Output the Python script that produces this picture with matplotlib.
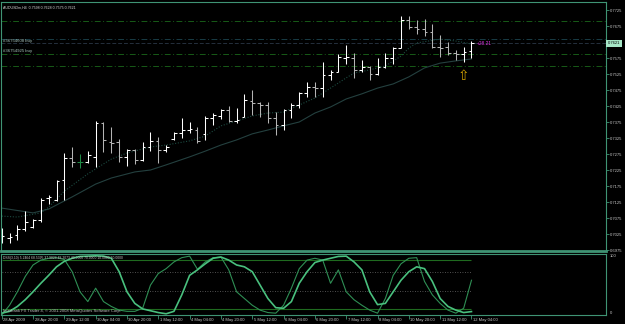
import matplotlib
matplotlib.use("Agg")
import matplotlib.pyplot as plt
import matplotlib.transforms as mtransforms
import numpy as np

plt.rcParams['font.family'] = ['Liberation Sans', 'DejaVu Sans']

# ---------------- data ----------------
opens = [0.7016,0.7013,0.7022,0.7041,0.7047,0.7069,0.7138,0.7131,0.7194,0.7263,
         0.7250,0.7250,0.7266,0.7372,0.7313,0.7313,0.7266,0.7288,0.7256,0.7297,
         0.7316,0.7288,0.7322,0.7341,0.7350,0.7350,0.7338,0.7388,0.7394,0.7413,
         0.7378,0.7391,0.7441,0.7434,0.7428,0.7388,0.7366,0.7413,0.7428,0.7466,
         0.7484,0.7481,0.7522,0.7531,0.7575,0.7575,0.7538,0.7547,0.7525,0.7547,
         0.7575,0.7606,0.7694,0.7672,0.7666,0.7656,0.7609,0.7609,0.7591,0.7588,
         0.7598]
highs = [0.7044,0.7028,0.7053,0.7097,0.7072,0.7138,0.7147,0.7194,0.7278,0.7297,
         0.7275,0.7284,0.7378,0.7375,0.7359,0.7322,0.7291,0.7291,0.7313,0.7344,
         0.7328,0.7303,0.7344,0.7388,0.7375,0.7359,0.7394,0.7403,0.7416,0.7425,
         0.7419,0.7463,0.7475,0.7438,0.7438,0.7406,0.7416,0.7434,0.7469,0.7500,
         0.7500,0.7563,0.7538,0.7588,0.7616,0.7591,0.7569,0.7550,0.7575,0.7591,
         0.7609,0.7706,0.7706,0.7694,0.7697,0.7681,0.7647,0.7625,0.7600,0.7609,
         0.7628]
lows = [0.6997,0.6997,0.7006,0.7034,0.7044,0.7063,0.7119,0.7128,0.7131,0.7234,
        0.7231,0.7247,0.7234,0.7281,0.7278,0.7250,0.7238,0.7244,0.7253,0.7284,
        0.7247,0.7281,0.7319,0.7325,0.7341,0.7309,0.7319,0.7366,0.7384,0.7375,
        0.7372,0.7391,0.7397,0.7391,0.7372,0.7334,0.7350,0.7388,0.7419,0.7453,
        0.7453,0.7453,0.7506,0.7531,0.7556,0.7513,0.7531,0.7506,0.7522,0.7544,
        0.7556,0.7606,0.7666,0.7650,0.7644,0.7606,0.7578,0.7584,0.7569,0.7563,
        0.7575]
closes = [0.7019,0.7016,0.7041,0.7063,0.7069,0.7131,0.7141,0.7191,0.7263,0.7250,
          0.7250,0.7272,0.7372,0.7319,0.7309,0.7266,0.7288,0.7256,0.7297,0.7316,
          0.7288,0.7297,0.7341,0.7350,0.7353,0.7316,0.7388,0.7397,0.7413,0.7378,
          0.7381,0.7444,0.7434,0.7428,0.7388,0.7366,0.7413,0.7428,0.7466,0.7484,
          0.7481,0.7522,0.7531,0.7578,0.7578,0.7538,0.7547,0.7525,0.7547,0.7575,
          0.7606,0.7694,0.7672,0.7666,0.7656,0.7609,0.7606,0.7591,0.7588,0.7594,
          0.7621]

ma_slow_idx = [0,4,6,9,12,14,17,19,21,24,26,28,30,32,34,36,38,40,42,44,46,48,50,52,54,56,58,60]
ma_slow = [0.7106,0.7091,0.7103,0.7141,0.7181,0.7200,0.7219,0.7225,0.7241,0.7266,0.7284,0.7303,
           0.7319,0.7338,0.7350,0.7363,0.7375,0.7403,0.7422,0.7447,0.7463,0.7481,0.7494,0.7516,
           0.7544,0.7559,0.7566,0.7572]
ma_fast_idx = [0,2,5,6,8,11,13,14,16,19,21,24,26,28,30,32,34,36,38,40,42,44,45,47,49,51,52,53,56,58,60]
ma_fast = [0.7081,0.7078,0.7091,0.7109,0.7159,0.7213,0.7244,0.7259,0.7278,0.7297,0.7303,0.7316,
           0.7331,0.7363,0.7378,0.7394,0.7403,0.7406,0.7428,0.7450,0.7481,0.7513,0.7528,0.7538,
           0.7550,0.7581,0.7606,0.7622,0.7634,0.7628,0.7619]

level_green = [0.7691, 0.7588, 0.7550]
order_lines = [0.7633, 0.7623]
order_labels = [("#36754608 buy", 0.7623), ("#36754925 buy", 0.7591)]

dss_main = [3,6,14,25,38,52,65,79,88,93,96,96.5,97,96.5,93,71,38,19,10,7,
            4,2,6,33,65,74,84,93,95,90,82,79,71,49,27,12,11,22,52,71,
            86,90,93,96,96.5,87,74,38,17,19,38,57,71,79,76,55,27,14,8,4,5.6]
dss_signal = [0,16,38,63,82,90,93,94,91,71,38,22,44,22,14,8,6,6,11,49,
              68,76,87,94,96.5,75,87,94,95,74,38,27,16,8,4,3,16,44,76,90,
              93,90,52,74,38,25,16,8,3,27,65,84,93,94,55,33,19,8,3,11,57]
dss_levels_solid = [90, 10]
dss_levels_dot = [70, 40]

time_labels = ["28 Apr 2009", "28 Apr 20:00", "29 Apr 12:00", "30 Apr 04:00", "30 Apr 20:00",
               "1 May 12:00", "4 May 04:00", "4 May 20:00", "5 May 12:00", "6 May 04:00",
               "6 May 20:00", "7 May 12:00", "8 May 04:00", "10 May 20:00", "11 May 12:00",
               "12 May 04:00"]
price_ticks = [0.6975 + 0.005 * k for k in range(16)]

header = "AUDUSDm,H4  0.7598 0.7628 0.7575 0.7621"
dss_header = "DSS(3,10) 5.2464 68.5395 37.9824 48.2073 40.0000 70.0000 10.0000 90.0000"
copyright_txt = "Interbank FX Trader 4, \u00a9 2001-2008 MetaQuotes Software Corp."
profit_txt = "+28.21"
last_price = closes[-1]

# ---------------- layout ----------------
W, H = 625, 324
fig = plt.figure(figsize=(W / 100, H / 100), dpi=100, facecolor='black')

def rect(x0, y0, x1, y1):
    return [x0 / W, 1 - y1 / H, (x1 - x0) / W, (y1 - y0) / H]

FRAME = '#3f9474'
TXT = '#c8c8c8'
XLIM = (-0.09, 77.18)

ax = fig.add_axes(rect(1, 2, 606, 251))
axi = fig.add_axes(rect(1, 254, 606, 315))
for a in (ax, axi):
    a.set_facecolor('black')
    a.set_xlim(*XLIM)
    for s in a.spines.values():
        s.set_color(FRAME)
        s.set_linewidth(0.8)
ax.spines['bottom'].set_linewidth(2.0)

ax.set_ylim(0.69719, 0.7750)
axi.set_ylim(0, 100)

n = len(closes)
idx = np.arange(n)
o = np.array(opens); h = np.array(highs); l = np.array(lows); c = np.array(closes)
cols = np.where(c > o, '#ffffff', np.where(c < o, '#b4b4b4', '#1f8a45'))

# horizontal trade lines
for v in level_green:
    ax.axhline(v, color='#175a17', lw=0.7, ls=(0, (6, 2.5, 1, 2.5)))
ax.axhline(order_lines[0], color='#183c46', lw=0.7, ls=(0, (6, 2.5, 1, 2.5)))
ax.axhline(order_lines[1], color='#252f3c', lw=0.7, ls=(0, (4, 2)))

# moving averages
ax.plot(ma_slow_idx, ma_slow, color='#24403f', lw=0.8)
ax.plot(ma_fast_idx, ma_fast, color='#1c4a40', lw=0.8, ls=(0, (1, 1.5)))

# OHLC bars
ax.vlines(idx, l, h, colors=cols, lw=0.75)
ax.hlines(o, idx - 0.35, idx, colors=cols, lw=0.75)
ax.hlines(c, idx, idx + 0.35, colors=cols, lw=0.75)

# price axis on the right (label under the current-price box is hidden, as in MT4)
ax.yaxis.tick_right()
ax.set_yticks(price_ticks)
ax.set_yticklabels(["" if abs(v - last_price) < 0.0015 else f"{v:.4f}" for v in price_ticks])
ax.tick_params(axis='y', colors=FRAME, labelcolor=TXT, labelsize=3.0, length=2, width=0.6, pad=1)
ax.set_xticks([])

# texts in main chart
ax.text(0.004, 0.985, header, transform=ax.transAxes, color='#d8d8d8', fontsize=2.6,
        ha='left', va='top')
blend = mtransforms.blended_transform_factory(ax.transAxes, ax.transData)
for txt, v in order_labels:
    ax.text(0.004, v, txt, transform=blend, color='#a8c4bc', fontsize=3.1, ha='left', va='bottom')
ax.text(1.003, last_price, f"{last_price:.4f}", transform=blend, color='black', fontsize=3.0,
        ha='left', va='center', clip_on=False, zorder=10,
        bbox=dict(boxstyle='square,pad=0.35', fc='#a6e6c6', ec='none'))
ax.text(n - 0.3, last_price, profit_txt, color='#e030e0', fontsize=3.4, ha='left', va='center',
        zorder=10)
ax.text(n - 2, lows[-2] - 0.0045, "\u21e7", color='#d0a000', fontsize=10, ha='center', va='center',
        family='DejaVu Sans')

# indicator panel
for v in dss_levels_solid:
    axi.hlines(v, 0, n - 1, colors='#1f6a1f', lw=0.8)
for v in dss_levels_dot:
    axi.hlines(v, 0, n - 1, colors='#6a6a6a', lw=0.6, linestyles=(0, (1, 2)))
axi.plot(idx, dss_signal, color='#2f8f55', lw=0.8)
axi.plot(idx, dss_main, color='#49c07e', lw=1.2)

axi.yaxis.tick_right()
axi.set_yticks([0, 100])
axi.set_yticklabels(["0", "100"])
axi.tick_params(axis='y', colors=FRAME, labelcolor=TXT, labelsize=3.0, length=0, pad=3)
for lab, va in zip(axi.get_yticklabels(), ['bottom', 'top']):
    lab.set_verticalalignment(va)

axi.set_xticks(np.arange(0, n, 4))
axi.set_xticklabels(time_labels)
axi.tick_params(axis='x', colors=FRAME, labelcolor=TXT, labelsize=3.0, length=3, width=0.6,
                pad=-0.7)
off = mtransforms.ScaledTranslation(1.5 / 100, 0, fig.dpi_scale_trans)
for lab in axi.get_xticklabels():
    lab.set_horizontalalignment('left')
    lab.set_transform(lab.get_transform() + off)

axi.text(0.004, 0.97, dss_header, transform=axi.transAxes, color='#c8c8c8', fontsize=2.4,
         ha='left', va='top')
axi.text(0.004, 0.03, copyright_txt, transform=axi.transAxes, color='#c0c0c0', fontsize=3.0,
         ha='left', va='bottom')

fig.savefig('out.png', dpi=100, facecolor='black')
